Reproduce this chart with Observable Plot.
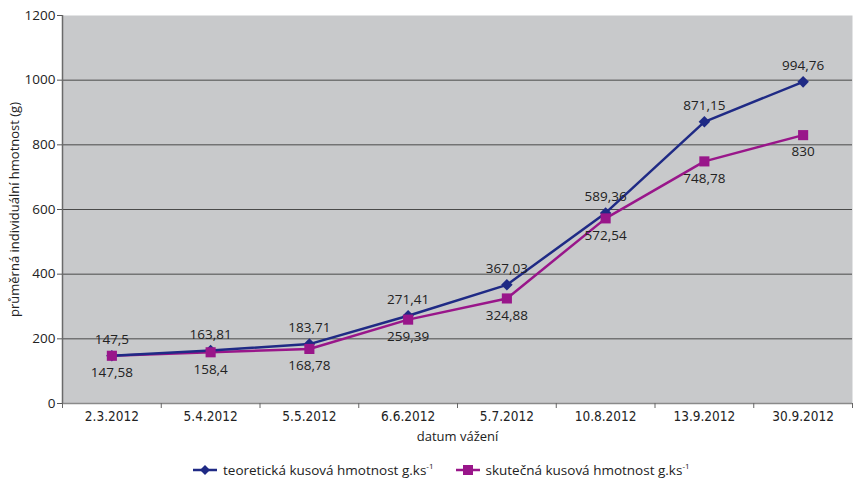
<!DOCTYPE html>
<html>
<head>
<meta charset="utf-8">
<script src="https://cdn.jsdelivr.net/npm/d3@7"></script>
<script src="https://cdn.jsdelivr.net/npm/@observablehq/plot@0.6"></script>
<style>
  body { margin: 0; background: #fff; font-family: "Open Sans", "Noto Sans", sans-serif; }
  #chart svg { display: block; }
  .legend { height: 29px; display: flex; justify-content: flex-start; align-items: center; gap: 22px; font-size: 13.5px; color: #222; padding-left: 193px; }
  .legend .item { display: flex; align-items: center; gap: 6px; }
  sup { font-size: 8px; vertical-align: 6px; line-height: 0; }
  .xlab text { font-family: "DejaVu Sans Condensed", "Liberation Sans Narrow", "DejaVu Sans", sans-serif; font-stretch: condensed; }
</style>
</head>
<body>
<div id="chart"></div>
<div class="legend">
  <div class="item"><svg width="24" height="12"><line x1="0" y1="6" x2="24" y2="6" stroke="#1f2a85" stroke-width="2.5"/><path d="M12 1 L17 6 L12 11 L7 6 Z" fill="#1f2a85"/></svg><span>teoretická kusová hmotnost g.ks<sup>-1</sup></span></div>
  <div class="item"><svg width="24" height="12"><line x1="0" y1="6" x2="24" y2="6" stroke="#99168a" stroke-width="2.5"/><rect x="7" y="1" width="10" height="10" fill="#99168a"/></svg><span>skutečná kusová hmotnost g.ks<sup>-1</sup></span></div>
</div>
<script>
const dates = ["2.3.2012", "5.4.2012", "5.5.2012", "6.6.2012", "5.7.2012", "10.8.2012", "13.9.2012", "30.9.2012"];
const teoreticka = [147.5, 163.81, 183.71, 271.41, 367.03, 589.36, 871.15, 994.76];
const skutecna = [147.58, 158.4, 168.78, 259.39, 324.88, 572.54, 748.78, 830];
const yTicks = [0, 200, 400, 600, 800, 1000, 1200];
const seriesNames = ["teoretická kusová hmotnost g.ks-1", "skutečná kusová hmotnost g.ks-1"];

const blue = "#1f2a85";
const magenta = "#99168a";
const fmt = v => String(v).replace(".", ",");

const rowsA = dates.map((d, i) => ({i, date: d, value: teoreticka[i]}));
const rowsB = dates.map((d, i) => ({i, date: d, value: skutecna[i]}));
const idx = dates.map((d, i) => i);
const bounds = [...idx.map(i => i - 0.5), dates.length - 0.5];
const grid = yTicks.filter(v => v > 0 && v < d3.max(yTicks));

const chart = Plot.plot({
  width: 854,
  height: 455,
  marginLeft: 62,
  marginRight: 2,
  marginTop: 15,
  marginBottom: 52,
  style: {fontFamily: "'Open Sans', 'Noto Sans', sans-serif", fontSize: "13px", color: "#222", background: "#fff"},
  x: {type: "linear", domain: [-0.5, dates.length - 0.5]},
  y: {domain: [0, 1200]},
  marks: [
    Plot.frame({fill: "#c8c9cb", stroke: null}),
    Plot.ruleY(grid, {stroke: "#4a4a4a", strokeWidth: 1}),
    Plot.ruleY([0], {stroke: "#8a8a8a", strokeWidth: 1.5}),
    Plot.ruleX([-0.5], {stroke: "#6a6a6a", strokeWidth: 1.5}),
    Plot.axisY({ticks: yTicks, tickSize: 5, tickPadding: 2, tickFormat: d3.format("d"), label: null, stroke: "#555", fontSize: 13.5}),
    Plot.axisX({ticks: bounds, tickSize: 5, tickFormat: () => "", label: null, stroke: "#666"}),
    Plot.axisX({ticks: idx, tickSize: 0, tickPadding: 8, tickFormat: i => dates[i], label: null,
      className: "xlab", fontSize: 13.5}),
    Plot.line(rowsB, {x: "i", y: "value", stroke: magenta, strokeWidth: 2.5}),
    Plot.line(rowsA, {x: "i", y: "value", stroke: blue, strokeWidth: 2.5}),
    Plot.dot(rowsA, {x: "i", y: "value", symbol: "diamond2", r: 5.2, fill: blue, stroke: null}),
    Plot.dot(rowsB, {x: "i", y: "value", symbol: "square", r: 5.7, fill: magenta, stroke: null}),
    Plot.text(rowsA, {x: "i", y: "value", text: d => fmt(d.value), dy: -16, fill: "#222", fontSize: 13.5}),
    Plot.text(rowsB, {x: "i", y: "value", text: d => fmt(d.value), dy: 17, fill: "#222", fontSize: 13.5}),
    Plot.text(["datum vážení"], {frameAnchor: "bottom", dy: 37, fill: "#222", fontSize: 13}),
    Plot.text(["průměrná individuální hmotnost (g)"], {frameAnchor: "left", dx: -48, rotate: -90, textAnchor: "middle", fill: "#222", fontSize: 13})
  ]
});
document.getElementById("chart").append(chart);
</script>
</body>
</html>
